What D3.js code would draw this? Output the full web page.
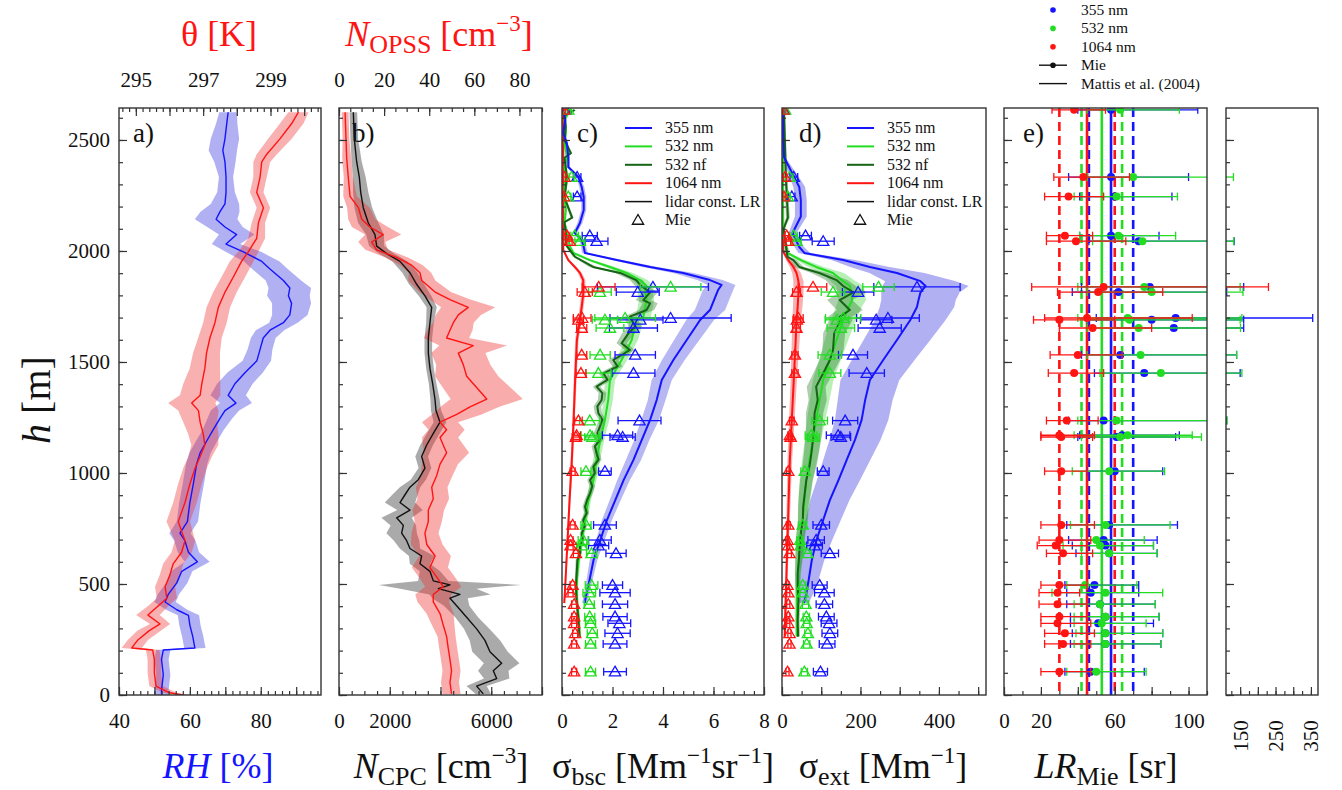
<!DOCTYPE html>
<html><head><meta charset="utf-8">
<script src="https://cdn.jsdelivr.net/npm/d3@7"></script>
<style>body{margin:0;background:#fff}svg{display:block}</style>
</head><body><svg width="1342" height="790"></svg>
<script>
// ---------------- DATA ----------------
// profiles: [height m, value, sd]
const RH_profile = [[2625,70.8,2.5],[2574,70.4,3],[2505,69.9,4],[2453,69.3,4],[2401,69.9,3],[2333,70.2,2],[2264,70.2,2.5],[2212,69.9,4],[2177,68.5,5.5],[2143,67.4,6],[2108,69.9,5],[2074,73.2,5],[2031,70.2,4],[1996,75.1,5],[1953,80.3,5],[1919,82.6,5],[1867,86.4,5],[1833,88.2,6],[1798,87.8,6],[1764,88.7,5.5],[1712,88.2,5],[1677,86.4,4],[1643,82.6,4],[1608,80.7,3.5],[1557,79.8,3.5],[1505,78.9,4],[1453,75.6,5],[1402,72.7,5],[1350,70.8,5],[1315,73.0,4.5],[1281,69.9,4],[1246,68.5,3.5],[1195,66.6,3],[1143,64.7,3],[1091,62.9,3],[1040,61.9,3],[953,61.0,3],[867,60.0,3],[781,59.3,3],[729,57.2,3],[695,58.6,3],[643,59.6,3],[600,62.1,3.5],[557,57.7,3],[505,56.3,3],[453,53.9,3],[419,53.0,3],[384,56.3,3],[359,59.6,3],[315,60.0,3],[264,60.8,3],[212,61.4,3],[203,52.5,2],[160,52.0,2],[91,52.5,2],[22,52.0,2],[0,52.0,2]];
const theta_profile = [[2625,299.83,0.3],[2574,299.63,0.35],[2505,299.28,0.35],[2436,298.89,0.3],[2401,298.74,0.25],[2333,298.69,0.2],[2264,298.59,0.2],[2195,298.79,0.2],[2126,298.64,0.2],[2057,298.59,0.25],[1996,298.34,0.3],[1953,298.14,0.35],[1884,297.90,0.35],[1815,297.65,0.35],[1746,297.45,0.35],[1677,297.35,0.35],[1608,297.20,0.35],[1540,297.10,0.4],[1471,297.05,0.45],[1402,296.96,0.55],[1350,296.91,0.6],[1315,296.66,0.7],[1281,296.86,0.6],[1229,296.91,0.5],[1178,297.00,0.45],[1126,297.05,0.4],[1074,296.91,0.35],[1022,296.76,0.35],[953,296.61,0.35],[867,296.46,0.35],[781,296.26,0.35],[695,296.46,0.3],[643,296.36,0.3],[591,296.11,0.3],[540,296.01,0.3],[488,295.87,0.3],[436,295.92,0.3],[402,295.67,0.3],[360,295.36,0.35],[320,295.72,0.3],[290,295.40,0.35],[248,295.06,0.3],[212,294.88,0.3],[203,295.50,0.2],[160,295.55,0.2],[100,295.55,0.2],[40,295.60,0.2],[10,296.0,0.2],[0,296.4,0.2]];
const CPC_profile = [[2625,565,150],[2505,603,150],[2401,697,200],[2333,800,250],[2264,855,300],[2195,958,350],[2126,1155,400],[2074,1418,350],[2022,1485,300],[1988,1880,300],[1953,2403,300],[1902,2797,300],[1850,3060,300],[1798,3388,250],[1746,3652,200],[1677,3585,150],[1608,3520,150],[1540,3520,150],[1471,3585,150],[1402,3690,150],[1333,3782,180],[1281,3822,200],[1229,3980,250],[1178,3717,250],[1126,3455,250],[1074,3257,250],[1022,3388,250],[970,3126,300],[936,2797,400],[902,2600,500],[867,2403,600],[833,2797,500],[798,2272,600],[764,2535,500],[729,2469,600],[695,2666,500],[660,2797,400],[626,3257,500],[591,3191,400],[557,3585,400],[514,3717,600],[496,4374,2800],[479,3914,1500],[453,4767,1200],[436,4374,700],[402,4636,500],[350,5030,450],[298,5424,500],[246,5752,600],[195,5950,700],[143,6410,700],[109,6080,600],[74,6213,500],[40,5424,400],[5,5686,300]];
const OPSS_profile = [[2625,2.7,1.5],[2505,3.1,1.5],[2419,3.4,2],[2333,4.1,2],[2246,4.9,3],[2195,8.6,5],[2143,10.1,6],[2108,13.7,8],[2074,19.6,8],[2040,14.5,6],[2005,16.7,5],[1971,25.6,5],[1936,32.2,5],[1902,35.9,5],[1867,36.7,6],[1815,42.6,7],[1781,49.2,9],[1746,57.3,12],[1712,52.9,10],[1677,50.7,9],[1643,49.2,10],[1608,47.7,10],[1574,59.5,15],[1540,52.9,12],[1488,55.1,12],[1436,56.6,14],[1385,61.0,15],[1333,65.5,16],[1298,58.1,13],[1264,52.2,11],[1229,44.8,8],[1195,47.7,8],[1160,44.8,8],[1126,46.2,9],[1091,47.7,10],[1040,44.8,8],[988,43.3,7],[936,41.1,7],[884,41.8,7],[833,39.6,7],[781,39.6,6],[729,38.1,6],[678,38.9,7],[626,42.6,7],[574,40.3,8],[522,44.0,8],[488,46.2,8],[453,41.8,8],[419,41.8,7],[367,44.8,6],[315,46.2,5],[264,47.7,4],[212,48.4,4],[160,49.2,4],[109,49.9,4],[57,49.2,4],[5,49.9,4]];
const bsc355 = [[2635,0.05,0.05],[2590,0.13,0.05],[2531,0.05,0.05],[2486,0.19,0.05],[2423,0.25,0.06],[2378,0.25,0.06],[2333,0.65,0.08],[2288,0.78,0.1],[2243,0.86,0.1],[2185,0.86,0.1],[2126,0.71,0.1],[2081,0.51,0.08],[2050,0.78,0.1],[2018,0.86,0.1],[1991,0.91,0.12],[1959,2.17,0.2],[1928,3.49,0.3],[1901,4.8,0.4],[1869,5.86,0.5],[1847,6.32,0.55],[1824,6.18,0.6],[1779,6.02,0.6],[1734,5.86,0.6],[1689,5.47,0.55],[1599,4.94,0.5],[1509,4.41,0.45],[1419,3.95,0.4],[1329,3.75,0.35],[1239,3.49,0.35],[1149,3.16,0.3],[1059,2.83,0.3],[968,2.44,0.25],[878,2.11,0.22],[788,1.78,0.2],[698,1.52,0.17],[608,1.25,0.15],[518,1.09,0.12],[428,0.92,0.1],[414,0.9,0.1]];
const bsc532 = [[2635,0.3,0.1],[2590,0.1,0.05],[2531,0.15,0.05],[2486,0.1,0.05],[2423,0.2,0.06],[2378,0.1,0.05],[2333,0.15,0.05],[2288,0.1,0.05],[2243,0.1,0.05],[2185,0.15,0.05],[2126,0.1,0.05],[2081,0.2,0.05],[2018,0.32,0.06],[1991,0.45,0.08],[1959,1.1,0.12],[1928,1.9,0.2],[1901,2.56,0.25],[1869,3.09,0.3],[1842,3.35,0.3],[1814,3.29,0.3],[1779,3.35,0.3],[1748,3.3,0.3],[1703,3.22,0.3],[1689,2.96,0.28],[1599,2.76,0.25],[1509,2.36,0.22],[1419,1.9,0.2],[1329,1.83,0.18],[1239,1.7,0.17],[1149,1.52,0.15],[1059,1.37,0.14],[968,1.25,0.12],[878,1.05,0.1],[788,0.91,0.1],[698,0.78,0.08],[608,0.66,0.07],[518,0.59,0.06],[428,0.59,0.06],[338,0.66,0.06],[263,0.7,0.06]];
const bsc532nf = [[2635,0.5,0.1],[2610,0.1,0.05],[2560,0.15,0.05],[2500,0.1,0.05],[2440,0.35,0.06],[2420,0.1,0.05],[2330,0.2,0.05],[2240,0.1,0.05],[2150,0.4,0.06],[2130,0.1,0.05],[2080,0.15,0.05],[2029,0.15,0.05],[1974,0.51,0.08],[1928,1.23,0.15],[1901,2.3,0.2],[1869,2.94,0.25],[1842,3.14,0.25],[1814,3.49,0.3],[1779,3.22,0.3],[1764,3.49,0.3],[1734,3.35,0.3],[1704,2.69,0.25],[1660,2.9,0.25],[1629,2.63,0.25],[1584,2.36,0.2],[1554,2.69,0.2],[1509,2.03,0.2],[1480,2.2,0.2],[1449,1.64,0.18],[1420,1.8,0.18],[1389,1.37,0.15],[1360,1.6,0.15],[1329,1.57,0.15],[1300,1.4,0.15],[1269,1.44,0.14],[1240,1.6,0.14],[1209,1.5,0.14],[1180,1.4,0.14],[1149,1.5,0.13],[1120,1.3,0.13],[1089,1.37,0.13],[1060,1.45,0.12],[1029,1.24,0.12],[1000,1.3,0.12],[968,1.11,0.11],[940,1.2,0.11],[908,1.11,0.1],[880,1.0,0.1],[848,0.91,0.1],[820,0.98,0.1],[788,0.84,0.09],[760,0.9,0.09],[728,0.78,0.08],[700,0.82,0.08],[668,0.71,0.08],[640,0.72,0.07],[608,0.61,0.07],[548,0.58,0.06],[488,0.55,0.06],[428,0.58,0.06],[338,0.65,0.06],[263,0.69,0.06]];
const bsc1064 = [[2635,0.05,0.03],[2400,0.05,0.03],[2200,0.05,0.03],[2005,0.05,0.03],[1959,0.25,0.05],[1928,0.51,0.07],[1901,0.71,0.08],[1869,0.84,0.09],[1814,0.85,0.09],[1748,0.78,0.08],[1689,0.71,0.08],[1599,0.59,0.07],[1419,0.52,0.06],[1239,0.46,0.05],[1059,0.39,0.05],[878,0.30,0.04],[698,0.22,0.04],[518,0.14,0.03],[414,0.09,0.03]];
const ext355 = [[2635,3,2],[2500,3,2],[2423,5,3],[2333,31,12],[2288,44,15],[2230,48,15],[2155,48,15],[2081,27,10],[2018,44,12],[1991,57,15],[1959,156,30],[1928,224,50],[1901,293,70],[1864,353,90],[1842,366,110],[1814,353,100],[1779,348,95],[1748,344,95],[1689,327,90],[1599,293,85],[1509,258,80],[1419,224,75],[1329,212,70],[1239,203,68],[1149,186,65],[1059,165,60],[968,144,55],[878,122,50],[788,105,45],[698,88,40],[608,76,32],[518,68,25],[457,62,18],[414,56,12]];
const ext532 = [[2635,2,2],[2081,3,2],[1991,14,6],[1959,48,12],[1928,87,20],[1901,130,28],[1864,156,32],[1842,173,35],[1814,176,35],[1779,179,35],[1748,170,33],[1703,160,32],[1689,156,32],[1599,139,30],[1509,122,28],[1419,105,26],[1329,96,25],[1239,87,23],[1149,79,21],[1059,70,19],[968,62,17],[878,57,15],[788,53,13],[698,46,11],[608,43,9],[518,40,7],[428,38,6],[338,38,5],[263,38,5]];
const ext532nf = [[2635,5,3],[2330,10,4],[2150,15,5],[2100,4,3],[1974,14,5],[1959,29,8],[1928,44,12],[1901,95,20],[1869,139,28],[1842,156,32],[1814,182,35],[1779,147,32],[1734,173,33],[1703,147,30],[1689,150,30],[1629,133,28],[1554,130,27],[1509,122,26],[1449,105,25],[1389,87,24],[1329,91,23],[1269,83,22],[1209,82,21],[1149,79,20],[1089,75,19],[1029,70,18],[968,62,16],[908,58,15],[848,54,13],[788,53,12],[728,48,11],[668,45,10],[608,43,9],[548,40,7],[488,40,6],[428,42,6],[338,40,5],[263,41,5]];
const ext1064 = [[2635,2,1],[2005,3,2],[1991,5,3],[1959,16,6],[1928,29,9],[1901,37,11],[1864,42,13],[1814,42,13],[1748,40,12],[1689,37,11],[1599,35,10],[1419,30,8],[1239,25,7],[1059,20,6],[878,17,5],[698,14,4],[518,11,3],[338,8,3],[263,7,3]];

// Mie points
const mieHeights = [2636,2333,2245,2069,2044,1838,1815,1698,1690,1653,1532,1450,1236,1170,1162,1008,766,698,673,638,495,461,409,353,323,278,230,105];
const bscMie355 = [[0.15,0.1],[0.6,0.15],[0.6,0.15],[1.1,0.3],[1.37,0.45],[3.6,2.2],[3.0,0.85],[4.3,2.4],[3.1,0.9],[2.83,0.95],[2.9,0.8],[2.83,0.85],[3.07,0.85],[2.2,0.6],[2.4,0.5],[1.7,0.25],[1.7,0.45],[1.5,0.45],[1.45,0.4],[2.14,0.4],[2.0,0.4],[2.1,0.6],[2.1,0.5],[2.1,0.48],[2.27,0.45],[2.2,0.5],[2.1,0.47],[2.1,0.45]];
const bscMie532 = [[0.25,0.1],[0.38,0.1],[0.25,0.1],[0.5,0.15],[0.71,0.2],[4.3,1.2],[1.5,0.45],[2.5,1.2],[1.7,0.5],[1.9,0.55],[1.51,0.4],[1.44,0.5],[1.1,0.4],[1.11,0.35],[1.2,0.3],[0.95,0.2],[0.95,0.2],[0.84,0.2],[0.78,0.2],[1.17,0.2],[1.17,0.25],[1.08,0.25],[1.08,0.2],[1.1,0.2],[1.13,0.2],[1.2,0.2],[1.13,0.2],[1.13,0.2]];
const bscMie1064 = [[0.08,0.05],[0.1,0.05],[0.08,0.05],[0.2,0.08],[0.3,0.1],[1.45,0.65],[0.9,0.3],[0.8,0.35],[0.65,0.2],[0.78,0.2],[0.78,0.2],[0.75,0.2],[0.65,0.15],[0.58,0.15],[0.55,0.15],[0.42,0.1],[0.42,0.1],[0.34,0.1],[0.34,0.1],[0.55,0.1],[0.42,0.1],[0.34,0.1],[0.48,0.1],[0.48,0.1],[0.48,0.1],[0.52,0.1],[0.48,0.1],[0.48,0.1]];
const extMie355 = [[5,3],[30,10],[25,8],[60,15],[105,28],[344,110],[194,40],[270,80],[240,40],[249,55],[181,37],[216,45],[161,32],[143,30],[150,25],[105,15],[100,21],[87,21],[83,20],[122,22],[96,19],[108,25],[108,21],[113,20],[120,20],[122,20],[115,20],[98,18]];
const extMie532 = [[8,3],[20,8],[15,6],[30,10],[37,12],[246,40],[130,30],[156,45],[140,30],[150,35],[122,30],[122,28],[96,20],[74,15],[80,15],[58,10],[53,10],[46,8],[48,8],[65,10],[53,8],[53,8],[60,8],[62,8],[63,8],[66,8],[63,8],[57,8]];
const extMie1064 = [[3,2],[8,4],[5,3],[12,5],[16,6],[79,35],[37,10],[42,12],[38,10],[37,10],[33,8],[33,8],[25,6],[20,5],[22,5],[16,5],[16,5],[14,4],[16,4],[19,5],[14,4],[16,4],[16,4],[16,4],[16,4],[19,4],[19,4],[14,4]];
// LR Mie: [value, low, high]
const LR355 = [[58,40,105],[58,35,100],[60,41,91],[58,41,84],[73,46,133],[79,42,160],[62,37,112],[93,50,355],[80,45,160],[92,58,160],[63,42,140],[76,49,150],[54,35,112],[64,41,95],[61,40,93],[60,45,86],[57,34,94],[54,35,83],[55,37,81],[57,39,83],[49,33,73],[47,34,73],[52,34,82],[55,36,84],[51,36,81],[55,37,86],[55,36,85],[47,33,76]];
const LR532 = [[63,45,95],[70,45,131],[61,38,94],[62,41,93],[75,48,132],[76,40,150],[80,45,158],[67,40,155],[68,45,150],[73,45,151],[74,45,140],[85,52,155],[61,40,113],[67,38,102],[63,42,107],[57,37,87],[55,36,90],[50,42,76],[52,32,81],[57,42,83],[44,34,72],[55,26,86],[52,38,82],[55,38,84],[53,38,77],[55,39,86],[55,38,85],[50,34,77]];
const LR1064 = [[38,26,55],[43,27,68],[35,22,54],[33,23,48],[39,23,66],[54,15,230],[51,29,86],[45,22,102],[30,16,60],[48,30,80],[40,25,64],[38,24,54],[34,23,51],[30,20,49],[31,20,48],[31,22,45],[31,20,49],[30,19,47],[28,18,45],[32,23,48],[30,20,45],[29,19,41],[29,19,45],[30,20,45],[29,20,47],[33,22,49],[32,22,47],[30,20,47]];
// Mattis et al. (2004) lidar ratios: [mean, sd] for 1064, 532, 355 nm
const mattisWavelengths = [1064, 532, 355];
const mattisLR = [[45,15],[53,11],[58,12]];

// tick labels
const yTickLabels = [0,500,1000,1500,2000,2500];
const rhLabels = [40,60,80];
const thetaLabels = [295,297,299];
const cpcLabels = [0,2000,6000];
const opssLabels = [0,20,40,60,80];
const bscLabels = [0,2,4,6,8];
const extLabels = [0,200,400];
const lrLabels = [0,20,60,100];
const lr2Labels = [150,250,350];

// ---------------- DRAWING ----------------
const FONT = '"Liberation Serif","Times New Roman",serif';
const RED = '#ff1414', BLUE = '#1414ff', GREEN = '#22dd22', DGREEN = '#146414', BLACK = '#111';
const svg = d3.select('svg').attr('font-family', FONT);
const defs = svg.append('defs');
const TOP = 108, BOT = 695;
const Y = d3.scaleLinear().domain([0, 2644]).range([BOT, TOP]);

const P = {a:[119,321], b:[339,542], c:[562,764], d:[782,986], e:[1004,1207], f:[1226,1318]};
const xRH = d3.scaleLinear([40, 97], P.a);
const xTh = d3.scaleLinear([294.5, 300.5], P.a);
const xCPC = d3.scaleLinear([0, 8000], P.b);
const xOPSS = d3.scaleLinear([0, 90], P.b);
const xBsc = d3.scaleLinear([0, 8], P.c);
const xExt = d3.scaleLinear([0, 520], P.d);
const xLR = d3.scaleLinear([0, 110], P.e);
const xLR2 = d3.scaleLinear([110, 370], P.f);

function panelG(id){
  const [x0,x1] = P[id];
  defs.append('clipPath').attr('id','clip-'+id).append('rect')
    .attr('x',x0).attr('y',TOP).attr('width',x1-x0).attr('height',BOT-TOP);
  return svg.append('g').attr('clip-path',`url(#clip-${id})`);
}
function band(g, data, x, fill, op){
  g.append('path').datum(data)
    .attr('d', d3.area().y(d=>Y(d[0])).x0(d=>x(d[1]-d[2])).x1(d=>x(d[1]+d[2])))
    .attr('fill', fill).attr('fill-opacity', op);
}
function prof(g, data, x, color, w){
  g.append('path').datum(data)
    .attr('d', d3.line().x(d=>x(d[1])).y(d=>Y(d[0])))
    .attr('fill','none').attr('stroke',color).attr('stroke-width',w).attr('stroke-linejoin','round');
}
function styleAxis(g, fs){
  g.attr('font-family', FONT).attr('font-size', fs||21);
  g.select('.domain').remove();
  g.selectAll('line').attr('stroke','#333').attr('stroke-width',1.2);
  g.selectAll('text').attr('fill','#111');
}
function ticks(axisFn, scale, tr, majors, minors){
  svg.append('g').attr('transform',tr).call(axisFn(scale).tickValues(minors).tickSize(-4).tickFormat('')).call(styleAxis);
  svg.append('g').attr('transform',tr).call(axisFn(scale).tickValues(majors).tickSize(-8).tickFormat('')).call(styleAxis);
}
function labels(axisFn, scale, tr, vals, pad){
  svg.append('g').attr('transform',tr).call(axisFn(scale).tickValues(vals).tickSize(0).tickPadding(pad).tickFormat(d3.format('d'))).call(styleAxis);
}

// ---- panel a ----
const ga = panelG('a');
band(ga, RH_profile, xRH, '#3030e0', 0.38);
band(ga, theta_profile, xTh, '#f03030', 0.38);
prof(ga, RH_profile, xRH, BLUE, 1.4);
prof(ga, theta_profile, xTh, RED, 1.4);

// ---- panel b ----
const gb = panelG('b');
band(gb, CPC_profile, xCPC, '#555', 0.5);
band(gb, OPSS_profile, xOPSS, '#f03030', 0.4);
prof(gb, CPC_profile, xCPC, BLACK, 1.4);
prof(gb, OPSS_profile, xOPSS, RED, 1.4);

// ---- panel c & d ----
function mieMarks(g, x, arrs, colors){
  arrs.forEach((arr, k) => {
    const col = colors[k];
    const pts = arr.map((d,i)=>({h:mieHeights[i], v:d[0], e:d[1]}));
    const sel = g.append('g').attr('stroke', col).attr('fill','none').attr('stroke-width',1.3);
    sel.selectAll('line.bar').data(pts).join('line')
      .attr('x1', d=>x(Math.max(0,d.v-d.e))).attr('x2', d=>x(d.v+d.e)).attr('y1', d=>Y(d.h)).attr('y2', d=>Y(d.h));
    sel.selectAll('line.cl').data(pts).join('line').attr('class','cl')
      .attr('x1', d=>x(Math.max(0,d.v-d.e))).attr('x2', d=>x(Math.max(0,d.v-d.e))).attr('y1', d=>Y(d.h)-4).attr('y2', d=>Y(d.h)+4);
    sel.selectAll('line.cr').data(pts).join('line').attr('class','cr')
      .attr('x1', d=>x(d.v+d.e)).attr('x2', d=>x(d.v+d.e)).attr('y1', d=>Y(d.h)-4).attr('y2', d=>Y(d.h)+4);
    sel.selectAll('path').data(pts).join('path')
      .attr('transform', d=>`translate(${x(d.v)},${Y(d.h)+1})`)
      .attr('d', d3.symbol().type(d3.symbolTriangle).size(55));
  });
}
const gc = panelG('c');
band(gc, bsc355, xBsc, '#3030e0', 0.35);
band(gc, bsc532, xBsc, '#30d030', 0.35);
band(gc, bsc532nf, xBsc, '#1a701a', 0.35);
band(gc, bsc1064, xBsc, '#f03030', 0.35);
prof(gc, bsc1064, xBsc, RED, 2);
prof(gc, bsc532, xBsc, GREEN, 2);
prof(gc, bsc532nf, xBsc, DGREEN, 2);
prof(gc, bsc355, xBsc, BLUE, 2);
mieMarks(gc, xBsc, [bscMie355, bscMie532, bscMie1064], [BLUE, GREEN, RED]);

const gd = panelG('d');
band(gd, ext355, xExt, '#3030e0', 0.38);
band(gd, ext532, xExt, '#30d030', 0.35);
band(gd, ext532nf, xExt, '#1a701a', 0.35);
band(gd, ext1064, xExt, '#f03030', 0.38);
prof(gd, ext1064, xExt, RED, 2);
prof(gd, ext532, xExt, GREEN, 2);
prof(gd, ext532nf, xExt, DGREEN, 2);
prof(gd, ext355, xExt, BLUE, 2);
mieMarks(gd, xExt, [extMie355, extMie532, extMie1064], [BLUE, GREEN, RED]);

// ---- panel e & f ----
function lrMarks(g, x, withLines){
  if (withLines){
    const mcol = [RED, GREEN, BLUE];
    mattisLR.forEach((m,k)=>{
      [m[0]-m[1], m[0]+m[1]].forEach(v=>{
        g.append('line').attr('x1',x(v)).attr('x2',x(v)).attr('y1',TOP).attr('y2',BOT)
          .attr('stroke',mcol[k]).attr('stroke-width',2.6).attr('stroke-dasharray','9,5');
      });
    });
    [1,2,0].forEach(k=>{
      g.append('line').attr('x1',x(mattisLR[k][0])).attr('x2',x(mattisLR[k][0])).attr('y1',TOP).attr('y2',BOT)
        .attr('stroke',mcol[k]).attr('stroke-width',2.6);
    });
  }
  [[LR355,BLUE],[LR532,GREEN],[LR1064,RED]].forEach(([arr,col])=>{
    const pts = arr.map((d,i)=>({h:mieHeights[i], v:d[0], lo:d[1], hi:d[2]}));
    const sel = g.append('g').attr('stroke',col).attr('stroke-width',1.3);
    sel.selectAll('line.b').data(pts).join('line').attr('class','b')
      .attr('x1',d=>x(d.lo)).attr('x2',d=>x(d.hi)).attr('y1',d=>Y(d.h)).attr('y2',d=>Y(d.h));
    sel.selectAll('line.l').data(pts).join('line').attr('class','l')
      .attr('x1',d=>x(d.lo)).attr('x2',d=>x(d.lo)).attr('y1',d=>Y(d.h)-4).attr('y2',d=>Y(d.h)+4);
    sel.selectAll('line.r').data(pts).join('line').attr('class','r')
      .attr('x1',d=>x(d.hi)).attr('x2',d=>x(d.hi)).attr('y1',d=>Y(d.h)-4).attr('y2',d=>Y(d.h)+4);
    g.append('g').selectAll('circle').data(pts).join('circle')
      .attr('cx',d=>x(d.v)).attr('cy',d=>Y(d.h)).attr('r',4).attr('fill',col);
  });
}
const ge = panelG('e');
lrMarks(ge, xLR, true);
const gf = panelG('f');
lrMarks(gf, xLR2, false);

// ---- frames, ticks, labels ----
Object.keys(P).forEach(k=>{
  const [x0,x1] = P[k];
  svg.append('rect').attr('x',x0).attr('y',TOP).attr('width',x1-x0).attr('height',BOT-TOP)
    .attr('fill','none').attr('stroke','#333').attr('stroke-width',1.4);
  ticks(d3.axisLeft, Y, `translate(${x0},0)`, d3.range(0,2644,500), d3.range(0,2644,100));
});
labels(d3.axisLeft, Y, `translate(${P.a[0]},0)`, yTickLabels, 9);

const bt = `translate(0,${BOT})`, tt = `translate(0,${TOP})`;
ticks(d3.axisBottom, xRH, bt, d3.range(40,97,10), d3.range(40,97,2));
ticks(d3.axisTop, xTh, tt, d3.range(295,300.6,1), d3.range(294.6,300.5,0.2));
ticks(d3.axisBottom, xCPC, bt, d3.range(0,8001,2000), d3.range(0,8001,500));
ticks(d3.axisTop, xOPSS, tt, d3.range(0,91,20), d3.range(0,91,5));
ticks(d3.axisBottom, xBsc, bt, d3.range(0,8.01,2), d3.range(0,8.01,0.4));
ticks(d3.axisBottom, xExt, bt, d3.range(0,521,100), d3.range(0,521,50));
ticks(d3.axisBottom, xLR, bt, d3.range(0,111,20), d3.range(0,111,10));
ticks(d3.axisBottom, xLR2, bt, d3.range(150,371,50), d3.range(125,371,25));

labels(d3.axisBottom, xRH, bt, rhLabels, 18);
labels(d3.axisBottom, xCPC, bt, cpcLabels, 18);
labels(d3.axisBottom, xBsc, bt, bscLabels, 18);
labels(d3.axisBottom, xExt, bt, extLabels, 18);
labels(d3.axisBottom, xLR, bt, lrLabels, 18);
labels(d3.axisTop, xTh, tt, thetaLabels, 21);
labels(d3.axisTop, xOPSS, tt, opssLabels, 21);
svg.append('g').selectAll('text').data(lr2Labels).join('text')
  .attr('transform', d=>`translate(${xLR2(d)},736) rotate(-90)`)
  .attr('text-anchor','middle').attr('dy','0.35em').attr('font-size',21).attr('fill','#111').text(d=>d);

// panel letters
[['a)',P.a[0]+14],['b)',P.b[0]+13],['c)',P.c[0]+15],['d)',P.d[0]+17],['e)',P.e[0]+19]].forEach(([t,x])=>{
  svg.append('text').attr('x',x).attr('y',142).attr('font-size',27).attr('fill','#111').text(t);
});

// legends in c and d
const legLabels = ['355 nm','532 nm','532 nf','1064 nm','lidar const. LR','Mie'];
const legColors = [BLUE, GREEN, DGREEN, RED, BLACK, BLACK];
[[P.c[0]+63],[P.d[0]+65]].forEach(([lx])=>{
  legLabels.forEach((t,i)=>{
    const y = 128 + i*18.4;
    if (i<5) svg.append('line').attr('x1',lx).attr('x2',lx+27).attr('y1',y).attr('y2',y)
      .attr('stroke',legColors[i]).attr('stroke-width', i<4?2:1.5);
    else svg.append('path').attr('transform',`translate(${lx+13},${y+1})`)
      .attr('d', d3.symbol().type(d3.symbolTriangle).size(55)).attr('fill','none').attr('stroke',BLACK).attr('stroke-width',1.3);
    svg.append('text').attr('x',lx+40).attr('y',y+5).attr('font-size',16).attr('fill','#111').text(t);
  });
});

// top-right legend
const tlLabels = ['355 nm','532 nm','1064 nm','Mie','Mattis et al. (2004)'];
const tlColors = [BLUE, GREEN, RED, BLACK, BLACK];
tlLabels.forEach((t,i)=>{
  const y = 10 + i*18.4;
  if (i>=3) svg.append('line').attr('x1',1039).attr('x2',1067).attr('y1',y).attr('y2',y).attr('stroke',BLACK).attr('stroke-width',1.4);
  if (i<=3) svg.append('circle').attr('cx',1053).attr('cy',y).attr('r',2.8).attr('fill',tlColors[i]);
  svg.append('text').attr('x',1081).attr('y',y+5).attr('font-size',15.5).attr('fill','#111').text(t);
});

// titles
function title(x, y, color, parts, fs){
  const t = svg.append('text').attr('x',x).attr('y',y).attr('text-anchor','middle').attr('font-size',fs).attr('fill',color);
  parts.forEach(p=>{
    const s = t.append('tspan').text(p.t);
    if (p.i) s.attr('font-style','italic');
    if (p.fs) s.attr('font-size',p.fs);
    if (p.dy) s.attr('dy',p.dy);
  });
  return t;
}
const TF = 36, SUB = 26, SUP = 23;
title(219, 46, RED, [{t:'θ [K]'}], TF);
title(439, 46, RED, [{t:'N',i:1},{t:'OPSS',fs:SUB,dy:7},{t:' [cm',dy:-7},{t:'−3',fs:SUP,dy:-15},{t:']',dy:15}], TF);
title(218, 778, BLUE, [{t:'RH',i:1},{t:' [%]'}], TF);
title(441, 778, BLACK, [{t:'N',i:1},{t:'CPC',fs:SUB,dy:7},{t:' [cm',dy:-7},{t:'−3',fs:SUP,dy:-15},{t:']',dy:15}], TF);
title(663, 778, BLACK, [{t:'σ'},{t:'bsc',fs:SUB,dy:7},{t:' [Mm',dy:-7},{t:'−1',fs:SUP,dy:-15},{t:'sr',dy:15},{t:'−1',fs:SUP,dy:-15},{t:']',dy:15}], TF);
title(883, 778, BLACK, [{t:'σ'},{t:'ext',fs:SUB,dy:7},{t:' [Mm',dy:-7},{t:'−1',fs:SUP,dy:-15},{t:']',dy:15}], TF);
title(1106, 778, BLACK, [{t:'LR',i:1},{t:'Mie',fs:SUB,dy:7},{t:' [sr]',dy:-7}], TF);
svg.append('text').attr('transform','translate(50,400) rotate(-90)').attr('text-anchor','middle')
  .attr('font-size',40).attr('fill','#111')
  .call(t=>{t.append('tspan').attr('font-style','italic').text('h'); t.append('tspan').text(' [m]');});
</script></body></html>
